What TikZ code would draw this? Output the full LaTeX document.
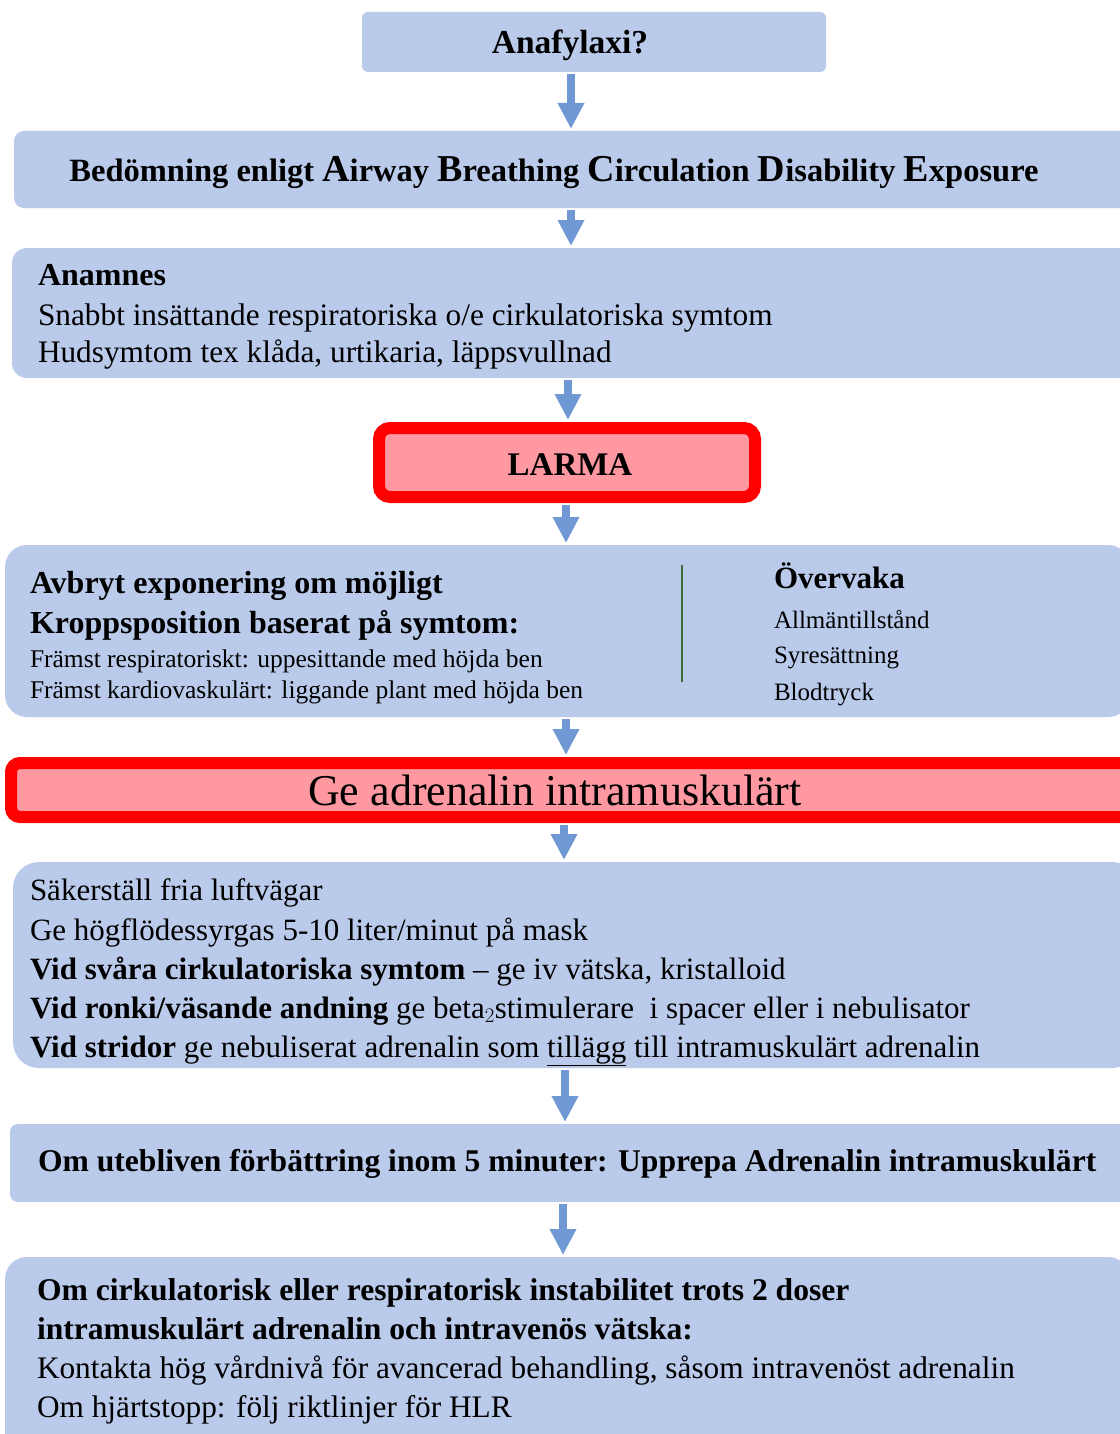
\documentclass[tikz,border=0pt]{standalone}
\usepackage{fontspec}
\setmainfont{Liberation Serif}
\usetikzlibrary{arrows.meta}
\definecolor{boxblue}{RGB}{186,202,234}
\definecolor{pinkfill}{RGB}{255,152,160}
\definecolor{arrowblue}{RGB}{112,152,212}
\definecolor{darkgreen}{RGB}{60,110,60}
\newcommand{\fs}[1]{\fontsize{#1}{#1}\selectfont}
\newcommand{\bigc}[1]{{\fs{38}#1}}
\tikzset{
  box/.style={fill=boxblue, draw=none, anchor=north west, inner sep=0pt, outer sep=0pt},
  redbox/.style={fill=pinkfill, draw=red, line width=12pt, anchor=north west, inner sep=0pt, outer sep=0pt, rounded corners=11pt},
  arr/.style={draw=arrowblue, line width=8pt, -{Triangle[width=25pt,length=26pt]}, shorten >=2pt, shorten <=2pt},
  txt/.style={anchor=base west, inner sep=0pt, outer sep=0pt},
  ctxt/.style={anchor=base, inner sep=0pt, outer sep=0pt},
}
\begin{document}
\begin{tikzpicture}[x=1pt,y=-1pt]
\useasboundingbox[fill=white] (0,0) rectangle (1119,1434);
% boxes
\node[box, rounded corners=6pt, minimum width=464pt, minimum height=60pt] (b1) at (362,12) {};
\node[box, rounded corners=10pt, minimum width=1125pt, minimum height=77pt] (b2) at (14,131) {};
\node[box, rounded corners=15pt, minimum width=1125pt, minimum height=130pt] (b3) at (12,248) {};
\node[redbox, minimum width=376pt, minimum height=69pt] (b4) at (379,428) {};
\node[box, rounded corners=22pt, minimum width=1125pt, minimum height=172pt] (b5) at (5,545) {};
\node[redbox, rounded corners=9pt, minimum width=1125pt, minimum height=54pt] (b6) at (11,763) {};
\node[box, rounded corners=26pt, minimum width=1125pt, minimum height=206pt] (b7) at (13,862) {};
\node[box, rounded corners=8pt, minimum width=1125pt, minimum height=78pt] (b8) at (10,1124) {};
\node[box, rounded corners=22pt, minimum width=1125pt, minimum height=200pt] (b9) at (5,1257) {};
% arrows
\draw[arr] (b1.south -| 571,0) -- (b2.north -| 571,0);
\draw[arr] (b2.south -| 571,0) -- (b3.north -| 571,0);
\draw[arr] (b3.south -| 568,0) -- ([yshift=6pt]b4.north -| 568,0);
\draw[arr] ([yshift=-6pt]b4.south -| 566,0) -- (b5.north -| 566,0);
\draw[arr] (b5.south -| 566,0) -- ([yshift=6pt]b6.north -| 566,0);
\draw[arr] ([yshift=-6pt]b6.south -| 564,0) -- (b7.north -| 564,0);
\draw[arr] (b7.south -| 565,0) -- (b8.north -| 565,0);
\draw[arr] (b8.south -| 563,0) -- (b9.north -| 563,0);
% texts
\node[ctxt] (t1) at (570,54) {\fs{33.5}\bfseries Anafylaxi?};
\node[ctxt] (t2) at (554,182) {\fs{32.5}\bfseries Bedömning enligt \bigc{A}irway \bigc{B}reathing \bigc{C}irculation \bigc{D}isability \bigc{E}xposure};
\node[txt] (t3a) at (38,285) {\fs{32}\bfseries Anamnes};
\node[txt] (t3b) at (38,325) {\fs{31.3}Snabbt insättande respiratoriska o/e cirkulatoriska symtom};
\node[txt] (t3c) at (38,362) {\fs{31.3}Hudsymtom tex klåda, urtikaria, läppsvullnad};
\node[ctxt] (t4) at (570,475) {\fs{33}\bfseries LARMA};
\node[txt] (t5a) at (30,593) {\fs{32}\bfseries Avbryt exponering om möjligt};
\node[txt] (t5b) at (30,633) {\fs{32}\bfseries Kroppsposition baserat på symtom:};
\node[txt] (t5c) at (30,667) {\fs{25.5}Främst respiratoriskt: uppesittande med höjda ben};
\node[txt] (t5d) at (30,698) {\fs{25.5}Främst kardiovaskulärt: liggande plant med höjda ben};
\coordinate (g1) at (682,565);
\coordinate (g2) at (682,682);
\draw[darkgreen, line width=2.5pt] (g1) -- (g2);
\node[txt] (t5e) at (774,588) {\fs{31}\bfseries Övervaka};
\node[txt] (t5f) at (774,628) {\fs{25}Allmäntillstånd};
\node[txt] (t5g) at (774,663) {\fs{25}Syresättning};
\node[txt] (t5h) at (774,700) {\fs{25}Blodtryck};
\node[ctxt] (t6) at (555,805) {\fs{44}Ge adrenalin intramuskulärt};
\node[txt] (t7a) at (30,900) {\fs{31}Säkerställ fria luftvägar};
\node[txt] (t7b) at (30,940) {\fs{31}Ge högflödessyrgas 5-10 liter/minut på mask};
\node[txt] (t7c) at (30,979) {\fs{31}\textbf{Vid svåra cirkulatoriska symtom} -- ge iv vätska, kristalloid};
\node[txt] (t7d) at (30,1018) {\fs{31}\textbf{Vid ronki/väsande andning} ge beta$_2$stimulerare\ \ i spacer eller i nebulisator};
\node[txt] (t7e) at (30,1057) {\fs{31}\textbf{Vid stridor} ge nebuliserat adrenalin som \underline{tillägg} till intramuskulärt adrenalin};
\node[txt] (t8) at (38,1171) {\fs{31.6}\bfseries Om utebliven förbättring inom 5 minuter: Upprepa Adrenalin intramuskulärt};
\node[txt] (t9a) at (37,1300) {\fs{31.6}\bfseries Om cirkulatorisk eller respiratorisk instabilitet trots 2 doser};
\node[txt] (t9b) at (37,1339) {\fs{31.6}\bfseries intramuskulärt adrenalin och intravenös vätska:};
\node[txt] (t9c) at (37,1378) {\fs{31.3}Kontakta hög vårdnivå för avancerad behandling, såsom intravenöst adrenalin};
\node[txt] (t9d) at (37,1417) {\fs{31.3}Om hjärtstopp: följ riktlinjer för HLR};
\end{tikzpicture}
\end{document}
